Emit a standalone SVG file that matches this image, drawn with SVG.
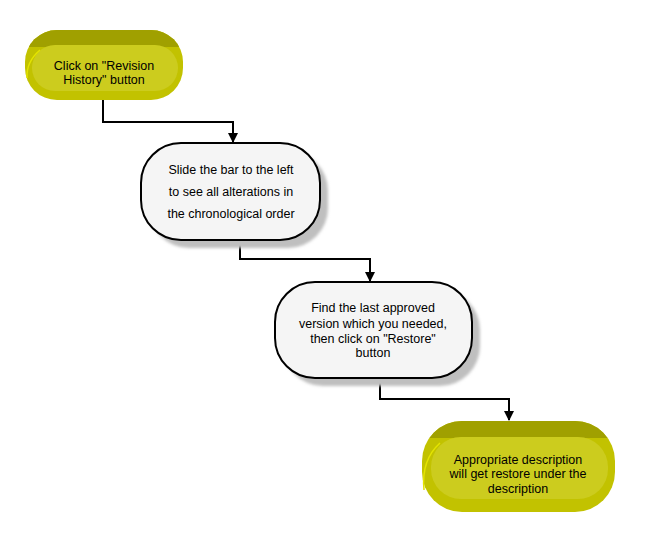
<svg xmlns="http://www.w3.org/2000/svg" width="665" height="552" viewBox="0 0 665 552">
<defs>
<style>
.t{font-family:"Liberation Sans",Arial,sans-serif;font-size:12.5px;fill:#000;text-anchor:middle}
.c{fill:none;stroke:#000;stroke-width:2}
.w{fill:#f5f5f5;stroke:#000;stroke-width:2}
.sh{fill:#bfbfbf;filter:url(#blur)}
.yb{fill:#c2c200}
.yt{fill:#a0a000}
.yh{fill:#cccc1e}
.ye{fill:none;stroke:#e4e400;stroke-width:1.5}
</style>
<filter id="blur" x="-10%" y="-10%" width="120%" height="120%"><feGaussianBlur stdDeviation="1.5"/></filter>
<marker id="ah" markerWidth="10" markerHeight="10" refX="9" refY="5" orient="auto" markerUnits="userSpaceOnUse">
<path d="M0,0 L10,5 L0,10 Z" fill="#000"/>
</marker>
<clipPath id="c1"><rect x="25" y="30" width="158" height="70" rx="32"/></clipPath>
<clipPath id="c4"><rect x="422" y="421" width="193" height="91" rx="40"/></clipPath>
</defs>

<g id="connectors">
<path class="c" d="M103,100 V122 H233 V142" marker-end="url(#ah)"/>
<path class="c" d="M240,240 V259 H370 V281" marker-end="url(#ah)"/>
<path class="c" d="M380,378 V399 H509 V420" marker-end="url(#ah)"/>
</g>

<g id="n1">
<g clip-path="url(#c1)">
<rect class="yb" x="25" y="30" width="158" height="70"/>
<rect class="yt" x="25" y="30" width="158" height="17"/>
<rect class="yh" x="32" y="45" width="146" height="46" rx="23"/>
</g>
<path class="ye" d="M40,50 Q26,62 27,78"/>
<text class="t" x="104" y="70">Click on "Revision</text>
<text class="t" x="104" y="84">History" button</text>
</g>

<g id="n2">
<rect class="sh" x="149" y="151" width="179" height="97" rx="40"/>
<rect class="w" x="141" y="143" width="179" height="97" rx="40"/>
<text class="t" x="231" y="174">Slide the bar to the left</text>
<text class="t" x="231" y="196">to see all alterations in</text>
<text class="t" x="231" y="218">the chronological order</text>
</g>

<g id="n3">
<rect class="sh" x="283" y="290" width="197" height="96" rx="40"/>
<rect class="w" x="275" y="282" width="197" height="96" rx="40"/>
<text class="t" x="373" y="312">Find the last approved</text>
<text class="t" x="373" y="328">version which you needed,</text>
<text class="t" x="373" y="343">then click on "Restore"</text>
<text class="t" x="373" y="357">button</text>
</g>

<g id="n4">
<g clip-path="url(#c4)">
<rect class="yb" x="422" y="421" width="193" height="91"/>
<rect class="yt" x="422" y="421" width="193" height="17"/>
<rect class="yh" x="431" y="437" width="177" height="62" rx="30"/>
</g>
<path class="ye" d="M440,443 Q421,460 424,490"/>
<text class="t" x="518" y="464">Appropriate description</text>
<text class="t" x="518" y="478">will get restore under the</text>
<text class="t" x="518" y="493">description</text>
</g>
</svg>
